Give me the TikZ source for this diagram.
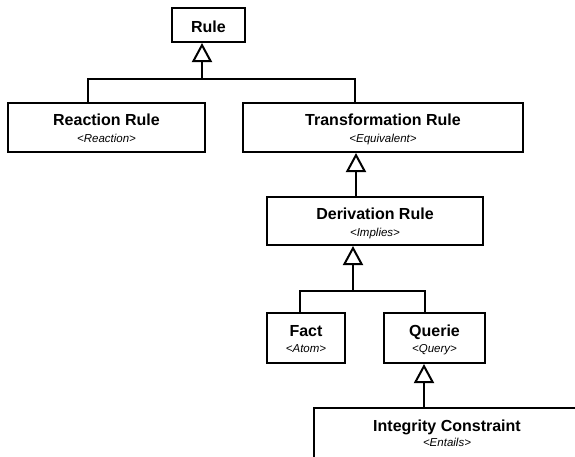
\documentclass[tikz,border=0pt]{standalone}
\usepackage{fontspec}
\setmainfont{Liberation Sans}
\usetikzlibrary{arrows.meta}

\tikzset{
  classbox/.style={draw, line width=2pt, fill=white, inner sep=0pt},
  classname/.style={anchor=base, inner sep=0pt, font=\fontsize{16}{18}\selectfont\bfseries},
  stereo/.style={anchor=base, inner sep=0pt, font=\fontsize{11.5}{13}\selectfont\itshape},
  link/.style={line width=2pt},
  isa/.style={line width=2pt, -{Triangle[open, length=19pt, width=20pt]}},
}

\begin{document}
\begin{tikzpicture}[x=1pt, y=-1pt]

  \useasboundingbox (0,0) rectangle (575,456);

  % classes
  \node[classbox, minimum width=73pt, minimum height=34pt] (rule) at (208.5,25) {};
  \node[classname] (rule-n) at ([yshift=-25pt]rule.north) {Rule};

  \node[classbox, minimum width=197pt, minimum height=49pt] (reaction) at (106.5,127.5) {};
  \node[classname] (reaction-n) at ([yshift=-23.5pt]reaction.north) {Reaction Rule};
  \node[stereo] (reaction-s) at ([yshift=-40.5pt]reaction.north) {<Reaction>};

  \node[classbox, minimum width=280pt, minimum height=49pt] (transf) at (383,127.5) {};
  \node[classname] (transf-n) at ([yshift=-23.5pt]transf.north) {Transformation Rule};
  \node[stereo] (transf-s) at ([yshift=-40.5pt]transf.north) {<Equivalent>};

  \node[classbox, minimum width=216pt, minimum height=48pt] (deriv) at (375,221) {};
  \node[classname] (deriv-n) at ([yshift=-23.5pt]deriv.north) {Derivation Rule};
  \node[stereo] (deriv-s) at ([yshift=-40pt]deriv.north) {<Implies>};

  \node[classbox, minimum width=78pt, minimum height=50pt] (fact) at (306,338) {};
  \node[classname] (fact-n) at ([yshift=-24pt]fact.north) {Fact};
  \node[stereo] (fact-s) at ([yshift=-40.5pt]fact.north) {<Atom>};

  \node[classbox, minimum width=101pt, minimum height=50pt] (querie) at (434.5,338) {};
  \node[classname] (querie-n) at ([yshift=-24pt]querie.north) {Querie};
  \node[stereo] (querie-s) at ([yshift=-40.5pt]querie.north) {<Query>};

  \node[classbox, minimum width=266pt, minimum height=50pt] (ic) at (447,432.5) {};
  \node[classname] (ic-n) at ([yshift=-24.5pt]ic.north) {Integrity Constraint};
  \node[stereo] (ic-s) at ([yshift=-40pt]ic.north) {<Entails>};

  % junctions
  \coordinate (j1) at (202,79);
  \coordinate (r1) at (88,79);
  \coordinate (t1) at (355,79);
  \coordinate (j2) at (356,0);
  \coordinate (j3) at (353,291);
  \coordinate (f1) at (300,291);
  \coordinate (q1) at (425,291);
  \coordinate (j4) at (424,0);

  % generalizations
  \draw[link] (r1 |- reaction.north) -- (r1) -- (t1) -- (t1 |- transf.north);
  \draw[isa] (j1) -- (j1 |- rule.south);

  \draw[isa] (j2 |- deriv.north) -- (j2 |- transf.south);

  \draw[link] (f1 |- fact.north) -- (f1) -- (q1) -- (q1 |- querie.north);
  \draw[isa] (j3) -- (j3 |- deriv.south);

  \draw[isa] (j4 |- ic.north) -- (j4 |- querie.south);

\end{tikzpicture}
\end{document}
